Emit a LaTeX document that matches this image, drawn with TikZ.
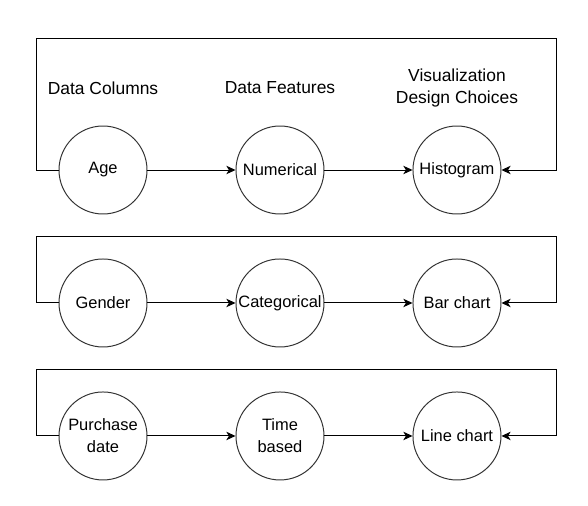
\documentclass[tikz,border=0pt]{standalone}
\usepackage{fontspec}
\setmainfont{Liberation Sans}
\usepackage{xcolor}
\usetikzlibrary{arrows.meta,positioning,calc}

\begin{document}
\begin{tikzpicture}[
    node distance=2.2cm,
    circ/.style={circle, draw=black!80, line width=0.7pt, minimum size=2.2cm, inner sep=0pt, align=center, font=\fontsize{11.7}{15.6}\selectfont},
    head/.style={align=center, font=\fontsize{12.4}{15.6}\selectfont},
    arrow/.style={->, >={Stealth[length=6.5pt,width=6pt,inset=1.8pt]}, line width=0.7pt}
]
\useasboundingbox (-2.575,4.25) rectangle (12.125,-8.4);

% row 1
\node[circ] (age) at (0,0) {Age};
\node[circ, right=of age] (num) {Numerical};
\node[circ, right=of num] (hist) {Histogram};

% row 2
\node[circ, below=1.1cm of age] (gender) {Gender};
\node[circ, right=of gender] (cat) {Categorical};
\node[circ, right=of cat] (bar) {Bar chart};

% row 3
\node[circ, below=1.1cm of gender] (purchase) {Purchase\\date};
\node[circ, right=of purchase] (time) {Time\\based};
\node[circ, right=of time] (line) {Line chart};

% headings
\node[head] (colhead) at ([yshift=2.05cm]age.center) {Data Columns};
\node[head] (feathead) at ([yshift=2.05cm]num.center) {Data Features};
\node[head] (vishead) at ([yshift=2.05cm]hist.center) {Visualization\\Design Choices};

\draw[arrow] (age) -- (num);
\draw[arrow] (num) -- (hist);
\draw[arrow] (gender) -- (cat);
\draw[arrow] (cat) -- (bar);
\draw[arrow] (purchase) -- (time);
\draw[arrow] (time) -- (line);

% loops back
\draw[arrow] (age.west) -- ++(-0.55,0) -- ++(0,3.3) -| ([xshift=1.375cm]hist.east) -- (hist.east);
\draw[arrow] (gender.west) -- ++(-0.55,0) -- ++(0,1.65) -| ([xshift=1.375cm]bar.east) -- (bar.east);
\draw[arrow] (purchase.west) -- ++(-0.55,0) -- ++(0,1.65) -| ([xshift=1.375cm]line.east) -- (line.east);

\end{tikzpicture}
\end{document}
